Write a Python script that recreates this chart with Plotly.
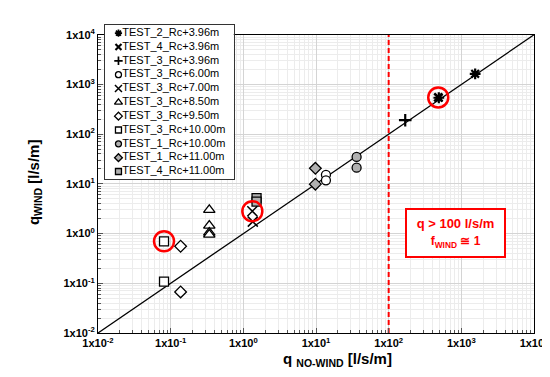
import plotly.graph_objects as go

# ---------------- data ----------------
series_names = [
    "TEST_2_Rc+3.96m", "TEST_4_Rc+3.96m", "TEST_3_Rc+3.96m", "TEST_3_Rc+6.00m",
    "TEST_3_Rc+7.00m", "TEST_3_Rc+8.50m", "TEST_3_Rc+9.50m", "TEST_3_Rc+10.00m",
    "TEST_1_Rc+10.00m", "TEST_1_Rc+11.00m", "TEST_4_Rc+11.00m",
]
t2_396_x = [1550, 490]
t2_396_y = [1640, 540]
t4_396_x = [481]
t4_396_y = [548]
t3_396_x = [169]
t3_396_y = [191]
t3_600_x = [13.7, 13.7]
t3_600_y = [15.2, 11.8]
t3_700_x = [1.33, 1.35]
t3_700_y = [2.82, 1.74]
t3_850_x = [0.34, 0.34, 0.34, 0.34]
t3_850_y = [3.0, 1.45, 1.05, 0.95]
t3_950_x = [0.137, 0.137]
t3_950_y = [0.556, 0.067]
t3_1000_x = [0.081, 0.081]
t3_1000_y = [0.70, 0.108]
t1_1000_x = [36.2, 36.2]
t1_1000_y = [34.9, 21.2]
t1_1100_x = [9.8, 9.8]
t1_1100_y = [20.6, 9.87]
t4_1100_x = [1.52, 1.52]
t4_1100_y = [5.15, 4.4]

highlight_x = [0.081, 1.33, 481]
highlight_y = [0.70, 2.82, 548]

line_xy = [0.01, 10000]
threshold_x = [100, 100]
threshold_y = [0.01, 10000]

tick_vals = [0.01, 0.1, 1, 10, 100, 1000, 10000]
tick_text = ["1x10<sup>-2</sup>", "1x10<sup>-1</sup>", "1x10<sup>0</sup>", "1x10<sup>1</sup>",
             "1x10<sup>2</sup>", "1x10<sup>3</sup>", "1x10<sup>4</sup>"]
minor_vals = [m * d for d in [0.01, 0.1, 1, 10, 100, 1000] for m in range(2, 10)]

xs = [t2_396_x, t4_396_x, t3_396_x, t3_600_x, t3_700_x, t3_850_x, t3_950_x,
      t3_1000_x, t1_1000_x, t1_1100_x, t4_1100_x]
ys = [t2_396_y, t4_396_y, t3_396_y, t3_600_y, t3_700_y, t3_850_y, t3_950_y,
      t3_1000_y, t1_1000_y, t1_1100_y, t4_1100_y]

# ---------------- styles ----------------
GRAY = "#b0b0b0"
styles = [
    dict(symbol="asterisk-open", size=9, color="black", line=dict(color="black", width=2.2)),
    dict(symbol="x-thin-open", size=8, color="black", line=dict(color="black", width=2.6)),
    dict(symbol="cross-thin-open", size=9, color="black", line=dict(color="black", width=2.2)),
    dict(symbol="circle", size=9, color="white", line=dict(color="black", width=1.3)),
    dict(symbol="x-thin-open", size=10, color="black", line=dict(color="black", width=1.5)),
    dict(symbol="triangle-up", size=10, color="white", line=dict(color="black", width=1.3)),
    dict(symbol="diamond", size=9, color="white", line=dict(color="black", width=1.3)),
    dict(symbol="square", size=9, color="white", line=dict(color="black", width=1.3)),
    dict(symbol="circle", size=9, color=GRAY, line=dict(color="black", width=1.3)),
    dict(symbol="diamond", size=9, color=GRAY, line=dict(color="black", width=1.3)),
    dict(symbol="square", size=9, color=GRAY, line=dict(color="black", width=1.3)),
]

FONT = "Liberation Sans, Arial, sans-serif"
fig = go.Figure()

# diagonal y = x
fig.add_trace(go.Scatter(x=line_xy, y=line_xy, mode="lines",
                         line=dict(color="black", width=1.3), showlegend=False))
# threshold
fig.add_trace(go.Scatter(x=threshold_x, y=threshold_y, mode="lines",
                         line=dict(color="#ff0000", width=2, dash="5px,3px"), showlegend=False))

for name, x, y, st in zip(series_names, xs, ys, styles):
    fig.add_trace(go.Scatter(x=x, y=y, mode="markers", name=name, marker=st, showlegend=False))

fig.add_trace(go.Scatter(x=highlight_x, y=highlight_y, mode="markers", showlegend=False,
                         marker=dict(symbol="circle-open", size=20, color="#ff0000",
                                     line=dict(color="#ff0000", width=2.5))))

# ---------------- custom legend subplot ----------------
rows = list(range(len(series_names)))
for r, st in zip(rows, styles):
    s = dict(st)
    s["size"] = max(6, st["size"] - 3)
    if "line" in s and s["line"]["width"] > 1.5:
        s["line"] = dict(color="black", width=s["line"]["width"] - 0.5)
    fig.add_trace(go.Scatter(x=[0.105], y=[r], mode="markers", marker=s,
                             xaxis="x2", yaxis="y2", showlegend=False))
fig.add_trace(go.Scatter(x=[0.135] * len(rows), y=rows, mode="text", text=series_names,
                         textposition="middle right",
                         textfont=dict(family=FONT, size=11, color="black"),
                         xaxis="x2", yaxis="y2", showlegend=False))

W, H = 550, 377
ML, MR, MT, MB = 90, 20, 9, 52
ph = H - MT - MB  # 316

axis_common = dict(
    type="log", range=[-2, 4], tickmode="array", tickvals=tick_vals, ticktext=tick_text,
    showgrid=True, gridcolor="#d4d4d4", gridwidth=1,
    showline=True, linecolor="black", linewidth=1, mirror=True,
    ticks="inside", ticklen=5, tickcolor="#555555",
    tickfont=dict(family=FONT, size=11, color="black", weight="bold"),
    zeroline=False,
    minor=dict(tickmode="array", tickvals=minor_vals, ticks="inside", ticklen=3,
               tickcolor="#555555", showgrid=True, gridcolor="#ececec", gridwidth=1),
)

fig.update_layout(
    width=W, height=H,
    margin=dict(l=ML, r=MR, t=MT, b=MB),
    paper_bgcolor="white", plot_bgcolor="white",
    showlegend=False,
    xaxis=dict(**axis_common, domain=[0, 1]),
    yaxis=dict(**axis_common, domain=[0, (325 - 19) / ph]),
    xaxis2=dict(domain=[(97 - 90) / 440, (227 - 90) / 440], range=[0, 1], anchor="y2",
                showgrid=False, zeroline=False, showticklabels=False, ticks="",
                showline=True, mirror=True, linecolor="#333333", linewidth=1, fixedrange=True),
    yaxis2=dict(domain=[(325 - 167) / ph, 1], range=[10.54, -0.585], anchor="x2",
                showgrid=False, zeroline=False, showticklabels=False, ticks="",
                showline=True, mirror=True, linecolor="#333333", linewidth=1, fixedrange=True),
    font=dict(family=FONT),
)

# annotation box
fig.add_annotation(x=2.923, y=0.02, xref="x", yref="y",
                   text="q &gt; 100 l/s/m<br><span style='font-size:12px'>f<sub>WIND</sub> ≅ 1</span>",
                   showarrow=False, font=dict(family=FONT, size=13, color="#ff0000", weight="bold"),
                   bordercolor="#ff0000", borderwidth=2, bgcolor="white",
                   width=95, height=44, align="center")

# axis titles
fig.add_annotation(x=(332 - 90) / 440, y=-(364 - 325) / ph, xref="paper", yref="paper",
                   text="q <sub>NO-WIND</sub> [l/s/m]", showarrow=False,
                   font=dict(family=FONT, size=15, color="black", weight="bold"))
fig.add_annotation(x=(15 - 90) / 440, y=(325 - 170) / ph, xref="paper", yref="paper",
                   text="q<sub>WIND</sub> [l/s/m]", showarrow=False, textangle=-90,
                   font=dict(family=FONT, size=15, color="black", weight="bold"))

fig.write_html("out.html")
